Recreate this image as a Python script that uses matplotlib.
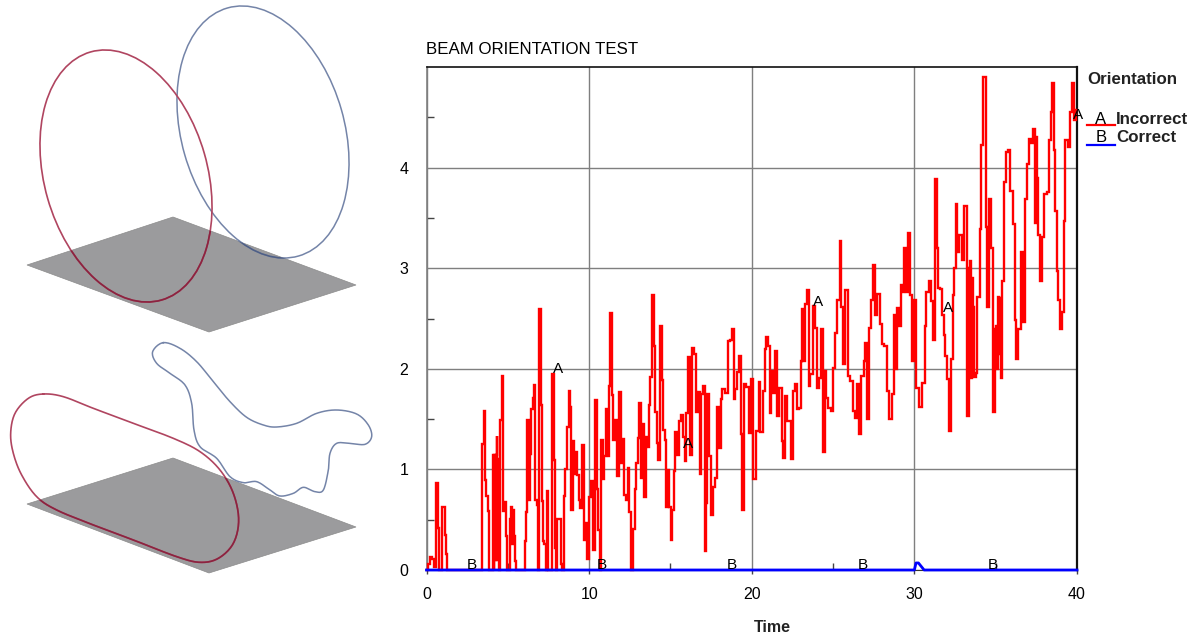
import matplotlib
matplotlib.use("Agg")
import matplotlib.pyplot as plt
from matplotlib.patches import Ellipse, Polygon
import numpy as np

plt.rcParams['font.family'] = ['Liberation Sans', 'DejaVu Sans']

#CONSTANTS
W, H = 1195, 636
RED = "#ff0000"
BLUE = "#0000ff"
GRID = "#7f7f7f"

#incorrect series
t1 = [0, .14, .27, .39, .51, .63, .76, .82, 1.06, 1.16, 1.27, 1.31, 3.37, 3.41, 3.47, 3.57, 3.63, 3.73, 3.82, 3.88,
      4.08, 4.12, 4.16, 4.20, 4.24, 4.28, 4.33, 4.38, 4.43, 4.47, 4.51, 4.57, 4.69, 4.76, 4.88, 4.94, 5.0, 5.10, 5.16,
      5.24, 5.31, 5.37, 5.43, 5.49, 5.55, 6.06, 6.08, 6.14, 6.22, 6.33, 6.39, 6.49, 6.55, 6.63, 6.73, 6.8, 6.88, 7.0,
      7.08, 7.14, 7.2, 7.29, 7.37, 7.43, 7.53, 7.65, 7.76, 7.86, 7.92, 8.0, 8.08, 8.22, 8.27, 8.37, 8.47, 8.49, 8.57,
      8.67, 8.8, 8.88, 8.94, 9.02, 9.12, 9.24, 9.33, 9.41, 9.49, 9.63, 9.69, 9.86, 9.94]
y1 = [0, .06, .13, .11, .03, .86, .42, 0, .63, .35, .16, 0, 0, .62, 1.25, 1.58, .89, .74, .59, 0,
      0, 1.14, 0, 1.14, .1, 1.14, 1.33, .1, 1.1, 0, 1.05, 1.49, 1.93, .59, .68, .34, 0, 0, .51,
      .63, .26, .60, .34, .09, 0, 0, .29, .58, 1.49, .7, 1.15, 1.6, 1.71, 1.84, .7, .65, 0, 2.59,
      1.64, .69, .29, .26, 0, .79, 0, 0, 1.95, 1.09, .22, 0, .51, .51, .06, 0, 0, .74, 1.0,
      1.42, 1.78, 1.62, .6, 1.28, .95, 1.17, .94, .7, .62, 1.24, .3, .47, .11]

t2 = [10.06, 10.19, 10.31, 10.41, 10.51, 10.6, 10.68, 10.78, 10.88, 10.99, 11.09, 11.19, 11.26, 11.36, 11.44, 11.54,
      11.67, 11.81, 11.91, 12.02, 12.12, 12.18, 12.33, 12.43, 12.53, 12.63, 12.74, 12.88, 12.94, 13.05, 13.11, 13.21,
      13.31, 13.42, 13.52, 13.62, 13.72, 13.81, 13.91, 14.01, 14.12, 14.22, 14.3, 14.4, 14.51, 14.59, 14.69, 14.79,
      14.9, 14.96, 15.06, 15.16, 15.25, 15.35, 15.45, 15.58, 15.68, 15.82, 15.93, 16.03, 16.13, 16.28, 16.4, 16.54,
      16.65, 16.75, 16.85, 16.95, 17.06, 17.14, 17.22, 17.33, 17.43, 17.55, 17.67, 17.8, 17.88, 18.05, 18.13, 18.25,
      18.5, 18.6, 18.77, 18.85, 18.93, 19.05, 19.16, 19.26, 19.36, 19.44, 19.57, 19.73, 19.88]
y2 = [.73, .88, .2, 1.69, .81, .4, 0, 1.29, .9, 1.13, 1.6, 1.13, 1.83, 2.55, 1.74, 1.29,
      1.49, .93, 1.77, 1.06, 1.3, .75, .7, 1.01, .58, 0, .41, .81, 1.06, 1.31, 1.66, .91,
      1.45, .73, 1.32, 1.22, 1.64, 1.92, 2.73, 2.23, 1.57, 1.26, 1.09, 2.43, 1.89, 1.39, 1.29, .63,
      .99, .63, .3, .6, .98, 1.37, 1.14, 1.48, 1.54, 1.32, 1.08, 1.56, 2.12, 1.14, 2.21, 2.15,
      1.57, 1.77, .95, 1.75, 1.83, .19, .67, 1.75, 1.13, .55, .83, .91, 1.62, 1.21, 1.7, 1.8,
      1.76, 2.28, 2.29, 2.4, 1.7, 1.8, 1.97, 2.13, 1.35, .6, 1.85, 1.82, 1.36]

t3 = [20.06, 20.14, 20.37, 20.47, 20.59, 20.76, 20.84, 20.96, 21.05, 21.15, 21.25, 21.35, 21.48, 21.6, 21.76, 21.91,
      21.99, 22.11, 22.25, 22.36, 22.48, 22.54, 22.73, 22.85, 22.99, 23.05, 23.11, 23.24, 23.34, 23.46, 23.55, 23.67,
      23.81, 23.95, 24.06, 24.2, 24.32, 24.45, 24.55, 24.63, 24.77, 24.94, 25.06, 25.18, 25.35, 25.45, 25.55, 25.68,
      25.82, 25.96, 26.15, 26.27, 26.41, 26.54, 26.66, 26.82, 26.93, 27.05, 27.17, 27.27, 27.4, 27.52, 27.64, 27.81,
      27.93, 28.05, 28.22, 28.38, 28.52, 28.67, 28.79, 28.87, 29.0, 29.12, 29.2, 29.32, 29.45, 29.57, 29.69, 29.82,
      29.94]
y3 = [1.9, .9, 1.38, 1.87, 1.37, 1.78, 2.2, 2.32, 2.23, 1.56, 1.98, 1.76, 2.18, 1.53, 1.81, 1.28,
      1.11, 1.73, 1.48, 1.48, 1.1, 1.78, 1.85, 1.6, 1.61, 2.08, 2.59, 2.08, 2.64, 2.78, 1.83, 1.95,
      2.62, 2.41, 1.81, 1.91, 2.4, 1.17, 1.98, 1.71, 1.61, 1.58, 2.01, 2.36, 2.68, 3.27, 2.61, 2.05,
      2.78, 1.93, 1.88, 1.58, 1.51, 1.85, 1.35, 1.93, 2.08, 2.26, 1.5, 2.41, 2.68, 3.03, 2.53, 2.74,
      2.45, 2.25, 2.23, 1.78, 1.5, 1.75, 2.53, 2.0, 2.6, 2.43, 2.83, 2.76, 3.2, 2.76, 3.35, 2.73,
      2.08]

t4 = [30.06, 30.16, 30.41, 30.57, 30.7, 30.78, 30.99, 31.07, 31.19, 31.31, 31.44, 31.52, 31.6, 31.75, 31.85, 31.95,
      32.05, 32.2, 32.32, 32.4, 32.51, 32.57, 32.67, 32.83, 32.98, 33.18, 33.33, 33.38, 33.45, 33.5, 33.55, 33.6, 33.66,
      33.72, 33.82, 33.94, 34.07, 34.17, 34.31, 34.44, 34.52, 34.62, 34.76, 34.91, 34.98, 35.05, 35.1, 35.17, 35.22,
      35.28, 35.34, 35.44, 35.56, 35.69, 35.85, 35.95, 36.12, 36.2, 36.32, 36.47, 36.61, 36.78, 36.88, 37.02, 37.1,
      37.25, 37.39, 37.44, 37.48, 37.54, 37.64, 37.76, 37.91, 38.07, 38.25, 38.34, 38.44, 38.54, 38.64, 38.71, 38.77,
      38.91, 39.03, 39.16, 39.2, 39.36, 39.53, 39.65, 39.75, 39.84, 40.0]
y4 = [2.68, 1.81, 1.62, 1.86, 2.43, 2.76, 2.87, 2.67, 2.29, 3.89, 3.2, 2.8, 2.79, 2.53, 2.34, 2.13,
      1.9, 1.38, 2.1, 2.73, 3.0, 3.64, 3.16, 3.33, 3.08, 3.62, 1.53, 3.0, 3.07, 1.91, 2.9, 2.0, 2.61,
      1.92, 1.96, 2.71, 3.39, 4.22, 4.9, 3.41, 2.61, 3.69, 3.2, 1.57, 2.4, 2.43, 2.0, 2.71, 2.15,
      2.7, 1.91, 2.87, 3.86, 4.16, 4.17, 3.77, 3.44, 2.49, 2.1, 2.4, 3.16, 2.47, 3.69, 4.04, 4.28,
      4.24, 4.38, 3.45, 4.3, 3.9, 3.33, 2.87, 3.31, 3.74, 3.76, 4.27, 4.55, 4.84, 4.17, 3.57, 2.97,
      2.68, 2.4, 2.56, 3.47, 4.27, 4.2, 4.55, 4.84, 4.47, 4.57]

#correct series
t_correct = [0, 30, 30.1, 30.25, 30.6, 40]
y_correct = [0, 0, .07, .07, 0, 0]

#curve letters
a_t = [8.08, 16.1, 24.07, 32.1, 40.05]
a_y = [2.0, 1.25, 2.66, 2.6, 4.52]
b_t = [2.8, 10.75, 18.75, 26.8, 34.8]
b_y = [.05, .05, .05, .05, .05]

x_ticks = [0, 10, 20, 30, 40]
y_ticks = [0, 1, 2, 3, 4]

#sketches on the left, in picture pixels
plane_top = [(27, 265), (173, 217), (356, 285), (209, 332)]
plane_bottom = [(27, 504), (173, 458), (356, 527), (209, 573)]
ring_red = (126, 176)
ring_blue = (263, 132)
loop_red = [(130, 192), (190, 200), (280, 235), (400, 280), (520, 325), (600, 365), (660, 420), (700, 490), (716, 570),
            (700, 640), (655, 685), (600, 697), (530, 680), (400, 630), (280, 585), (170, 540), (110, 500), (65, 435),
            (40, 370), (32, 310), (45, 250), (85, 205)]
loop_blue = [(490, 38), (540, 55), (590, 95), (640, 155), (690, 215), (740, 262), (790, 285), (830, 291), (890, 280),
             (950, 250), (1010, 240), (1070, 252), (1105, 285), (1115, 320), (1095, 343), (1050, 340), (1010, 340),
             (990, 370), (985, 420), (970, 480), (945, 485), (910, 472), (880, 490), (840, 498), (810, 480), (770, 455),
             (730, 458), (690, 440), (650, 385), (600, 350), (582, 300), (575, 220), (555, 165), (510, 130), (470, 100),
             (458, 65)]


#closed smooth line through the traced points
def smoothLoop(points):
    p = np.array(points, dtype=float)
    p = np.column_stack((p[:, 0] / 3, 330 + p[:, 1] / 3))
    out = []
    n = len(p)
    for i in range(n):
        p0, p1, p2, p3 = p[i - 1], p[i], p[(i + 1) % n], p[(i + 2) % n]
        for s in np.linspace(0, 1, 12, endpoint=False):
            out.append(.5 * (2 * p1 + (p2 - p0) * s + (2 * p0 - 5 * p1 + 4 * p2 - p3) * s ** 2
                             + (3 * p1 - p0 - 3 * p2 + p3) * s ** 3))
    out.append(out[0])
    return np.array(out)


fig = plt.figure(figsize=(W / 100, H / 100), dpi=100)

#sheet in pixel coordinates for everything outside the chart
sheet = fig.add_axes([0, 0, 1, 1])
sheet.set_xlim(0, W)
sheet.set_ylim(H, 0)
sheet.axis("off")

patch_top = Polygon(plane_top, closed=True, fc="#9b9b9d", ec="#8c8c8c", lw=.5)
patch_bottom = Polygon(plane_bottom, closed=True, fc="#9b9b9d", ec="#8c8c8c", lw=.5)
sheet.add_patch(patch_top)
sheet.add_patch(patch_bottom)

sheet.add_patch(Ellipse(ring_blue, 258, 163, angle=74, fill=False, ec="#7484a8", lw=1.1))
sheet.add_patch(Ellipse(ring_red, 258, 163, angle=74, fill=False, ec="#b04560", lw=1.2))
blue_path = smoothLoop(loop_blue)
red_path = smoothLoop(loop_red)
sheet.plot(blue_path[:, 0], blue_path[:, 1], color="#7484a8", lw=1.1)
sheet.plot(red_path[:, 0], red_path[:, 1], color="#b04560", lw=1.2)

#rings go darker over the grey plate
dark = Ellipse(ring_red, 258, 163, angle=74, fill=False, ec="#8b2440", lw=1.2)
sheet.add_patch(dark)
dark.set_clip_path(patch_top)
dark = Ellipse(ring_blue, 258, 163, angle=74, fill=False, ec="#4f5f85", lw=1.1)
sheet.add_patch(dark)
dark.set_clip_path(patch_top)
line, = sheet.plot(red_path[:, 0], red_path[:, 1], color="#8b2440", lw=1.2)
line.set_clip_path(patch_bottom)
line, = sheet.plot(blue_path[:, 0], blue_path[:, 1], color="#4f5f85", lw=1.1)
line.set_clip_path(patch_bottom)

#legend
sheet.text(1087, 80, "Orientation", fontsize=12.2, fontweight="bold", color="#222222", va="center")
sheet.text(1101, 119, "A", fontsize=12, color="black", va="center", ha="center")
sheet.text(1116, 119, "Incorrect", fontsize=12.2, fontweight="bold", color="#222222", va="center")
sheet.text(1101, 138, "B", fontsize=12, color="black", va="center", ha="center")
sheet.text(1116, 138, "Correct", fontsize=12.2, fontweight="bold", color="#222222", va="center")
sheet.plot([1087, 1115], [125, 125], color=RED, lw=1.6)
sheet.plot([1087, 1115], [145, 145], color=BLUE, lw=1.6)

sheet.text(426, 50, "BEAM ORIENTATION TEST", fontsize=12.2, color="black", va="center")
sheet.text(772, 628, "Time", fontsize=11.5, fontweight="bold", color="#222222", va="center", ha="center")

#chart
ax = fig.add_axes([426.5 / W, 1 - 570 / H, (1077 - 426.5) / W, (570 - 67) / H])
ax.patch.set_alpha(0)
ax.set_xlim(0, 40)
ax.set_ylim(0, 5)
ax.set_xticks(x_ticks)
ax.set_yticks(y_ticks)
ax.set_xticks([5, 15, 25, 35], minor=True)
ax.set_yticks([.5, 1.5, 2.5, 3.5, 4.5], minor=True)
ax.grid(True, which="major", color=GRID, lw=1)
ax.set_axisbelow(True)
ax.tick_params(axis="x", which="major", length=3, width=1, color="#444444", labelsize=11.5, pad=9)
ax.tick_params(axis="y", which="major", length=0, labelsize=11.5, pad=13)
ax.tick_params(axis="both", which="minor", direction="in", length=5, width=1, color="#444444")
ax.spines["left"].set_color(GRID)
ax.spines["left"].set_linewidth(1.2)
ax.spines["top"].set_color("#111111")
ax.spines["top"].set_linewidth(1.2)
ax.spines["right"].set_color("#111111")
ax.spines["right"].set_linewidth(1.6)
ax.spines["bottom"].set_color("#333333")

t_incorrect = t1 + t2 + t3 + t4
y_incorrect = y1 + y2 + y3 + y4
ax.plot(t_incorrect, y_incorrect, color=RED, lw=1.7, clip_on=False, drawstyle="steps-mid",
        solid_joinstyle="miter", zorder=3)
ax.plot(t_correct, y_correct, color=BLUE, lw=2, clip_on=False, zorder=4)

for t, y in zip(a_t, a_y):
    ax.text(t, y, "A", fontsize=11, color="black", ha="center", va="center", zorder=5, clip_on=False)
for t, y in zip(b_t, b_y):
    ax.text(t, y, "B", fontsize=11, color="black", ha="center", va="center", zorder=5, clip_on=False)

fig.savefig("out.png", dpi=100)
